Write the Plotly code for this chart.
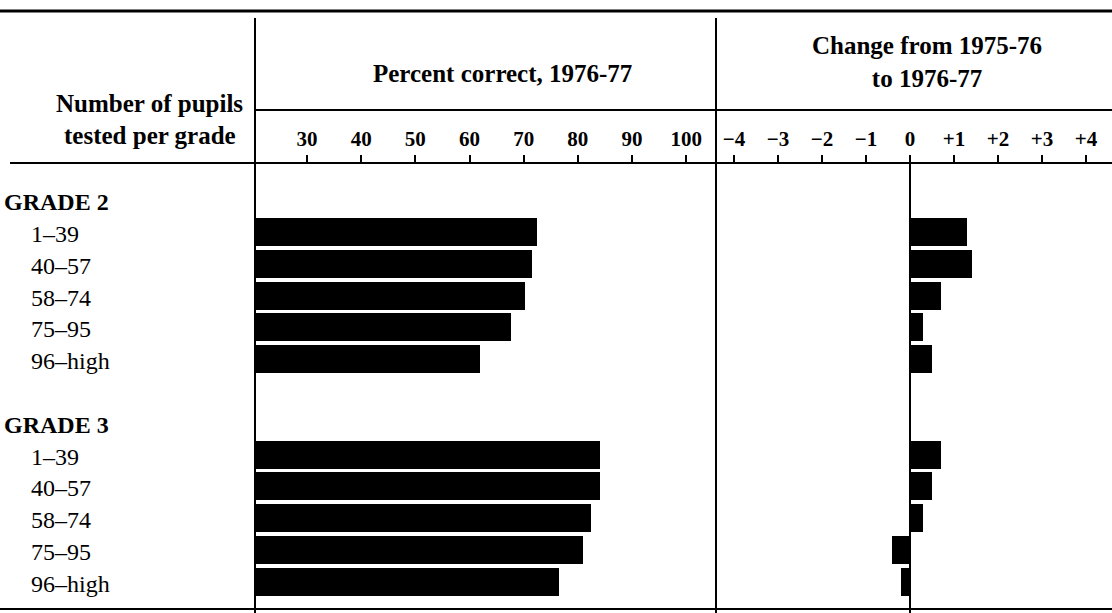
import plotly.graph_objects as go

# values
grades = ["GRADE 2", "GRADE 3"]
groups = ["1–39", "40–57", "58–74", "75–95", "96–high"]
pct_grade2 = [72.5, 71.6, 70.2, 67.7, 62.0]
pct_grade3 = [84.1, 84.1, 82.4, 80.9, 76.5]
chg_grade2 = [1.3, 1.4, 0.7, 0.3, 0.5]
chg_grade3 = [0.7, 0.5, 0.3, -0.4, -0.2]

pct_ticks = [30, 40, 50, 60, 70, 80, 90, 100]
chg_ticks = [-4, -3, -2, -1, 0, 1, 2, 3, 4]
chg_ticktext = ["−4", "−3", "−2", "−1", "0", "+1", "+2", "+3", "+4"]

W, H = 1112, 613
FONT = "Liberation Serif"

# row layout: grade heading, five size groups, a blank row, next grade ...
rows = []
for i, g in enumerate(grades):
    if i:
        rows.append(("", None))
    rows.append((g, None))
    for k in range(len(groups)):
        rows.append((groups[k], (i, k)))

pct = [pct_grade2, pct_grade3]
chg = [chg_grade2, chg_grade3]
bar_y, bar_pct, bar_chg = [], [], []
for idx, (label, key) in enumerate(rows):
    if key is not None:
        bar_y.append(idx)
        bar_pct.append(pct[key[0]][key[1]])
        bar_chg.append(chg[key[0]][key[1]])


def px(x):
    return x / W


def py(y):
    return 1 - y / H


fig = go.Figure()
fig.add_trace(go.Bar(x=bar_pct, y=bar_y, orientation="h", width=0.88,
                     marker=dict(color="black", line_width=0),
                     xaxis="x", yaxis="y", hoverinfo="x"))
fig.add_trace(go.Bar(x=bar_chg, y=bar_y, orientation="h", width=0.88,
                     marker=dict(color="black", line_width=0),
                     xaxis="x2", yaxis="y", hoverinfo="x"))

axis_font = dict(family=FONT, size=21, color="black", weight="bold")
common_x = dict(side="top", showgrid=False, showline=True, linecolor="black",
                linewidth=2, ticks="outside", ticklen=7, tickwidth=2,
                tickcolor="black", tickfont=axis_font, ticklabelstandoff=1,
                fixedrange=True)

top_y = 164
fig.update_layout(
    width=W, height=H,
    margin=dict(l=0, r=0, t=0, b=0),
    paper_bgcolor="white", plot_bgcolor="white",
    showlegend=False, bargap=0,
    xaxis=dict(domain=[px(255), px(716)], range=[20.4, 105.5],
               tickvals=pct_ticks, zeroline=False, anchor="y", **common_x),
    xaxis2=dict(domain=[px(716), 1], range=[-4.41, 4.59],
                tickvals=chg_ticks, ticktext=chg_ticktext, zeroline=True,
                zerolinecolor="black", zerolinewidth=2, anchor="y", **common_x),
    yaxis=dict(domain=[0, py(top_y)], range=[12.98, -1.14],
               showticklabels=False, showgrid=False, zeroline=False,
               fixedrange=True),
    font=dict(family=FONT, color="black"),
)

# row labels on the left
for idx, (label, key) in enumerate(rows):
    if not label:
        continue
    is_head = key is None
    fig.add_annotation(
        x=px(2) if is_head else px(29), xref="paper", y=idx, yref="y",
        text="<b>%s</b>" % label if is_head else label,
        showarrow=False, xanchor="left", yanchor="middle", yshift=-2,
        font=dict(family=FONT, size=24, color="black"))

head_font = dict(family=FONT, size=25, color="black")
fig.add_annotation(x=px(149), y=py(103), xref="paper", yref="paper",
                   text="<b>Number of pupils</b>", showarrow=False,
                   xanchor="center", yanchor="middle", font=head_font)
fig.add_annotation(x=px(150), y=py(135), xref="paper", yref="paper",
                   text="<b>tested per grade</b>", showarrow=False,
                   xanchor="center", yanchor="middle", font=head_font)
fig.add_annotation(x=px(502), y=py(73), xref="paper", yref="paper",
                   text="<b>Percent correct, 1976-77</b>", showarrow=False,
                   xanchor="center", yanchor="middle", font=head_font)
fig.add_annotation(x=px(927), y=py(62), xref="paper", yref="paper",
                   text="<b>Change from 1975-76</b><br><b>to 1976-77</b>",
                   showarrow=False, xanchor="center", yanchor="middle",
                   font=head_font)

# table rules
line = dict(color="black", width=2)
fig.add_shape(type="line", xref="paper", yref="paper", x0=0, x1=1,
              y0=py(11), y1=py(11), line=dict(color="black", width=3))
fig.add_shape(type="line", xref="paper", yref="paper", x0=px(255), x1=1,
              y0=py(110), y1=py(110), line=line)
fig.add_shape(type="line", xref="paper", yref="paper", x0=px(10), x1=px(255),
              y0=py(163), y1=py(163), line=line)
fig.add_shape(type="line", xref="paper", yref="paper", x0=0, x1=1,
              y0=py(609), y1=py(609), line=line)
for xv in (255, 716):
    fig.add_shape(type="line", xref="paper", yref="paper", x0=px(xv),
                  x1=px(xv), y0=py(18), y1=0, line=line)

# the page's default body margin would shift the figure by 8px
fig.write_html("out.html", config={"displayModeBar": False},
               post_script="document.body.style.margin='0';"
                           "document.body.style.overflow='hidden';")
